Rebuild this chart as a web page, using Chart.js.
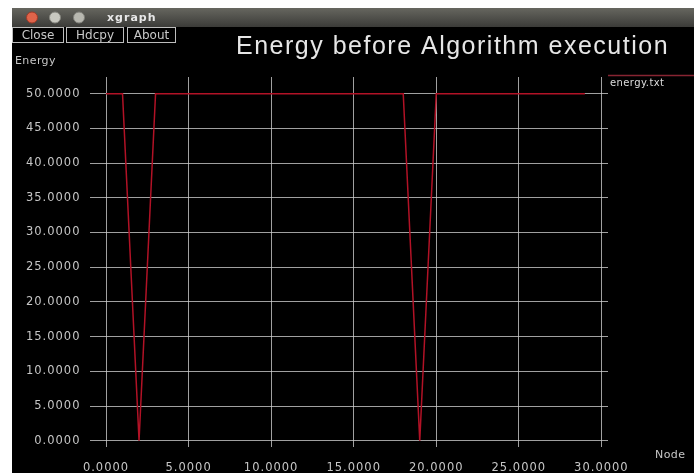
<!DOCTYPE html>
<html>
<head>
<meta charset="utf-8">
<script src="https://cdn.jsdelivr.net/npm/chart.js@4/dist/chart.umd.min.js"></script>
<style>
  html, body { margin: 0; padding: 0; background: #ffffff; }
  #wrap { position: relative; width: 694px; height: 473px; }
</style>
</head>
<body>
<div id="wrap"><canvas id="c"></canvas></div>
<script>
// Node index and residual energy read from energy.txt
const nodes = [0, 1, 2, 3, 4, 5, 6, 7, 8, 9, 10, 11, 12, 13, 14, 15, 16, 17, 18, 19, 20, 21, 22, 23, 24, 25, 26, 27, 28, 29];
const energy = [50, 50, 0, 50, 50, 50, 50, 50, 50, 50, 50, 50, 50, 50, 50, 50, 50, 50, 50, 0, 50, 50, 50, 50, 50, 50, 50, 50, 50, 50];

const xTicks = [0, 5, 10, 15, 20, 25, 30];
const yTicks = [0, 5, 10, 15, 20, 25, 30, 35, 40, 45, 50];

const windowTitle = 'xgraph';
const buttons = ['Close', 'Hdcpy', 'About'];
const plotTitle = 'Energy before Algorithm execution';
const yLabel = 'Energy';
const xLabel = 'Node';
const seriesName = 'energy.txt';

const LINE = 'rgb(178, 18, 38)';
const GRID = 'rgba(205, 205, 205, 0.78)';
const TEXT = '#c6c6c6';

// xgraph window chrome: frame, title bar, buttons, labels, legend
const chrome = {
  id: 'xgraphChrome',
  beforeDraw(chart) {
    const ctx = chart.ctx;
    const W = chart.width, H = chart.height;
    ctx.save();
    ctx.fillStyle = '#ffffff';
    ctx.fillRect(0, 0, W, H);
    ctx.fillStyle = '#000000';
    ctx.fillRect(12, 8, W - 12, H - 8);
    // title bar
    const g = ctx.createLinearGradient(0, 8, 0, 27);
    g.addColorStop(0, '#66665f');
    g.addColorStop(1, '#3b3b38');
    ctx.fillStyle = g;
    ctx.fillRect(12, 8, W - 12, 19);
    // window buttons
    const circ = (x, fill, ring) => {
      ctx.beginPath();
      ctx.arc(x, 17.5, 5.5, 0, Math.PI * 2);
      ctx.fillStyle = fill; ctx.fill();
      ctx.lineWidth = 1; ctx.strokeStyle = ring; ctx.stroke();
    };
    circ(32, '#e0644a', '#a03a28');
    circ(55, '#c8c8c0', '#85857e');
    circ(79, '#b8b8b0', '#80807a');
    ctx.fillStyle = '#e8e8e8';
    ctx.font = 'bold 11px "DejaVu Sans"';
    ctx.textBaseline = 'middle';
    ctx.textAlign = 'left';
    ctx.letterSpacing = '1px';
    ctx.fillText(windowTitle, 107, 18);
    ctx.restore();
  },
  afterDraw(chart) {
    const ctx = chart.ctx;
    const W = chart.width;
    ctx.save();
    ctx.textBaseline = 'middle';
    // push buttons
    const boxes = [[12, 63], [66, 123], [127, 175]];
    ctx.font = '12px "DejaVu Sans"';
    ctx.letterSpacing = '0px';
    buttons.forEach((b, i) => {
      const [x0, x1] = boxes[i];
      ctx.strokeStyle = '#bdbdbd';
      ctx.lineWidth = 1;
      ctx.strokeRect(x0 + 0.5, 27.5, x1 - x0, 15);
      ctx.fillStyle = '#c8c8c8';
      ctx.textAlign = 'center';
      ctx.fillText(b, (x0 + x1) / 2 + 0.5, 35.5);
    });
    // plot title
    ctx.fillStyle = '#e6e6e6';
    ctx.font = '25px "Liberation Sans"';
    ctx.letterSpacing = '1.5px';
    ctx.textAlign = 'left';
    ctx.fillText(plotTitle, 236, 47);
    // axis names
    ctx.fillStyle = TEXT;
    ctx.font = '11px "DejaVu Sans"';
    ctx.letterSpacing = '0.4px';
    ctx.fillText(yLabel, 15, 61);
    ctx.fillText(xLabel, 655, 455);
    // legend
    ctx.strokeStyle = 'rgba(150, 40, 55, 0.9)';
    ctx.lineWidth = 1.5;
    ctx.beginPath();
    ctx.moveTo(608, 75.5);
    ctx.lineTo(W, 75.5);
    ctx.stroke();
    ctx.fillStyle = '#dedede';
    ctx.font = '10px "DejaVu Sans"';
    ctx.fillText(seriesName, 610, 83);
    ctx.restore();
  }
};

// wider tick lettering, as in the xgraph fonts
const tickSpacing = {
  id: 'tickSpacing',
  beforeDatasetsDraw(chart) { chart.ctx.letterSpacing = '0px'; },
  beforeDraw(chart) { chart.ctx.letterSpacing = '1px'; }
};

const fmt = v => Number(v).toFixed(4);

new Chart(document.getElementById('c'), {
  type: 'line',
  data: {
    datasets: [{
      label: seriesName,
      data: nodes.map((n, i) => ({ x: n, y: energy[i] })),
      borderColor: LINE,
      borderWidth: 1.5,
      pointRadius: 0,
      tension: 0,
      fill: false
    }]
  },
  options: {
    responsive: true,
    maintainAspectRatio: false,
    devicePixelRatio: 1,
    animation: false,
    events: [],
    layout: { padding: { top: 77, left: 0, right: 86, bottom: 0 } },
    plugins: { legend: { display: false }, title: { display: false }, tooltip: { enabled: false } },
    scales: {
      x: {
        type: 'linear',
        min: -1,
        max: 30.4,
        afterBuildTicks: s => { s.ticks = xTicks.map(v => ({ value: v })); },
        afterFit: s => { s.height = 26; },
        grid: { color: GRID, lineWidth: 1, drawTicks: false },
        border: { display: false },
        ticks: {
          color: TEXT,
          font: { family: 'DejaVu Sans', size: 11.5 },
          padding: 14,
          maxRotation: 0,
          autoSkip: false,
          callback: fmt
        }
      },
      y: {
        type: 'linear',
        min: -0.9,
        max: 52.4,
        afterBuildTicks: s => { s.ticks = yTicks.map(v => ({ value: v })); },
        afterFit: s => { s.width = 89.5; },
        grid: { color: GRID, lineWidth: 1, drawTicks: false },
        border: { display: false },
        ticks: {
          color: TEXT,
          font: { family: 'DejaVu Sans', size: 11.5 },
          padding: 9,
          autoSkip: false,
          callback: fmt
        }
      }
    }
  },
  plugins: [chrome, tickSpacing]
});
</script>
</body>
</html>
